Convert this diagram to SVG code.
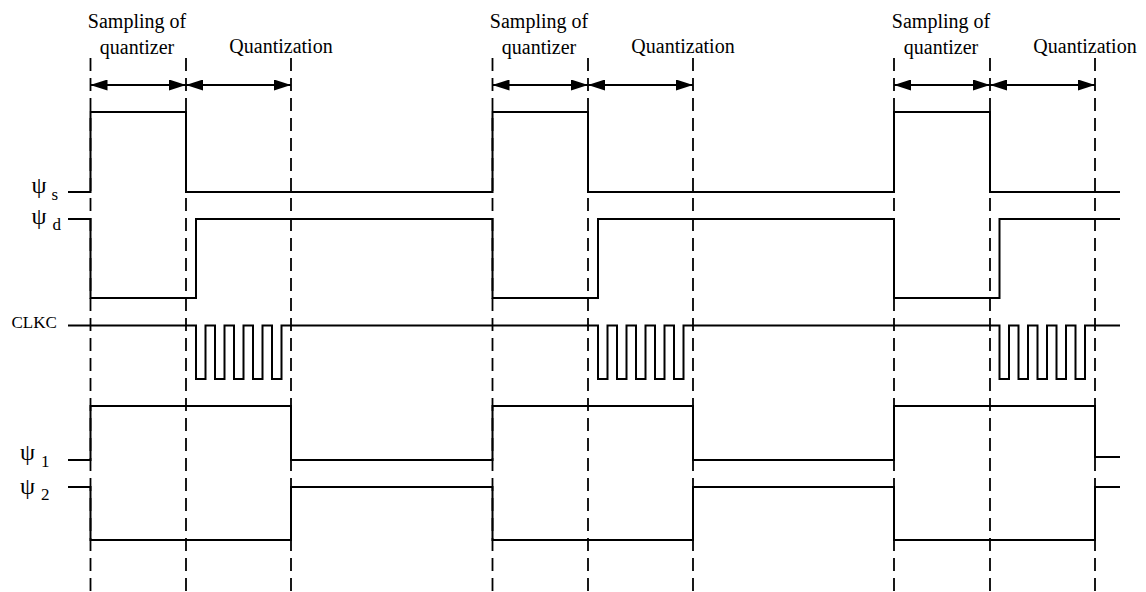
<svg xmlns="http://www.w3.org/2000/svg" width="1146" height="592" viewBox="0 0 1146 592">
<style>
.bg{fill:#fff}
.sig{fill:none;stroke:#000;stroke-width:2;stroke-linejoin:miter}
.dash{fill:none;stroke:#000;stroke-width:1.8;stroke-dasharray:13 7}
.arr{fill:none;stroke:#000;stroke-width:2}
.t{font-family:'Liberation Serif',serif;fill:#000}
.hdr{font-size:20px;text-anchor:middle}
.psi{font-size:24px}
.sub{font-size:17px}
.clk{font-size:17px}
</style>
<defs>
<marker id="ah" viewBox="0 0 17 11" markerWidth="17" markerHeight="11" refX="17" refY="5.5" markerUnits="userSpaceOnUse" orient="auto-start-reverse">
<path d="M0,0 L17,5.5 L0,11 z" fill="#000"/>
</marker>
</defs>
<rect class="bg" x="0" y="0" width="1146" height="592"/>
<g id="gridlines">
<path class="dash" d="M90.5,58 V592 M186,58 V592 M291,58 V592 M492.5,58 V592 M588,58 V592 M693,58 V592 M894,58 V592 M990,58 V592 M1095,58 V592"/>
</g>
<g id="phase-labels" font-family="Liberation Serif, serif">
<g id="phase1">
<text class="t hdr" x="137" y="28">Sampling of</text>
<text class="t hdr" x="137" y="54">quantizer</text>
<text class="t hdr" x="281" y="53">Quantization</text>
</g>
<g id="phase2">
<text class="t hdr" x="539" y="28">Sampling of</text>
<text class="t hdr" x="539" y="54">quantizer</text>
<text class="t hdr" x="683" y="53">Quantization</text>
</g>
<g id="phase3">
<text class="t hdr" x="941" y="28">Sampling of</text>
<text class="t hdr" x="941" y="54">quantizer</text>
<text class="t hdr" x="1085" y="53">Quantization</text>
</g>
</g>
<g id="connectors">
<path class="arr" d="M90.5,85 H186" marker-start="url(#ah)" marker-end="url(#ah)"/>
<path class="arr" d="M186,85 H291" marker-start="url(#ah)" marker-end="url(#ah)"/>
<path class="arr" d="M492.5,85 H588" marker-start="url(#ah)" marker-end="url(#ah)"/>
<path class="arr" d="M588,85 H693" marker-start="url(#ah)" marker-end="url(#ah)"/>
<path class="arr" d="M894,85 H990" marker-start="url(#ah)" marker-end="url(#ah)"/>
<path class="arr" d="M990,85 H1095" marker-start="url(#ah)" marker-end="url(#ah)"/>
</g>
<g id="psi-s">
<text class="t psi" x="31.5" y="193">ψ</text>
<text class="t sub" x="51.5" y="200">s</text>
<path class="sig" d="M68,192 H90.5 V112 H186 V192 H492.5 V112 H588 V192 H894 V112 H990 V192 H1120"/>
</g>
<g id="psi-d">
<text class="t psi" x="31.5" y="224">ψ</text>
<text class="t sub" x="52.5" y="230">d</text>
<path class="sig" d="M68,219 H90.5 V298 H196 V219 H492.5 V298 H598 V219 H894 V298 H999.5 V219 H1120"/>
</g>
<g id="clkc">
<text class="t clk" x="11.5" y="328">CLKC</text>
<path class="sig" d="M68,325.5 H196 V379 H205.5 V325.5 H215 V379 H224.5 V325.5 H234 V379 H243.5 V325.5 H253 V379 H262.5 V325.5 H272 V379 H281.5 V325.5 H598 V379 H607.5 V325.5 H617 V379 H626.5 V325.5 H636 V379 H645.5 V325.5 H655 V379 H664.5 V325.5 H674 V379 H683.5 V325.5 H999.5 V379 H1009 V325.5 H1018.5 V379 H1028 V325.5 H1037.5 V379 H1047 V325.5 H1056.5 V379 H1066 V325.5 H1075.5 V379 H1085 V325.5 H1120"/>
</g>
<g id="psi-1">
<text class="t psi" x="20" y="460">ψ</text>
<text class="t sub" x="41" y="466.5">1</text>
<path class="sig" d="M68,460 H90.5 V406 H291 V460 H492.5 V406 H693 V460 H894 V406 H1095 V457 H1120"/>
</g>
<g id="psi-2">
<text class="t psi" x="20" y="494">ψ</text>
<text class="t sub" x="41" y="500">2</text>
<path class="sig" d="M68,487 H90.5 V540 H291 V487 H492.5 V540 H693 V487 H894 V540 H1095 V487 H1120"/>
</g>
</svg>
